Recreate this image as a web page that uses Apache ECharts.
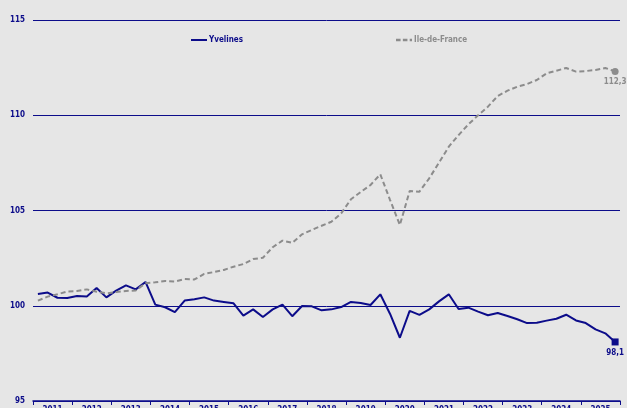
<!DOCTYPE html>
<html><head><meta charset="utf-8">
<script src="https://cdn.jsdelivr.net/npm/echarts@6/dist/echarts.min.js"></script>
<style>html,body{margin:0;padding:0;background:#e6e6e6;}#c{width:627px;height:408px;}</style>
</head><body><div id="c"></div>
<script>
var years = ['2011','2012','2013','2014','2015','2016','2017','2018','2019','2020','2021','2022','2023','2024','2025'];
var quarters = [];
years.forEach(function(y){ for (var q=1;q<=4;q++) quarters.push(y+'T'+q); });
var yvelines = [100.62,100.69,100.42,100.41,100.51,100.48,100.93,100.44,100.79,101.07,
  100.86,101.25,100.06,99.92,99.67,100.27,100.34,100.44,100.27,100.2,
  100.13,99.48,99.81,99.41,99.81,100.06,99.45,99.99,99.97,99.76,
  99.81,99.93,100.2,100.14,100.04,100.6,99.57,98.32,99.73,99.52,
  99.81,100.23,100.6,99.83,99.9,99.69,99.5,99.62,99.46,99.29,
  99.09,99.11,99.22,99.32,99.53,99.23,99.09,98.76,98.55,98.1];
var idf = [100.27,100.48,100.6,100.75,100.77,100.86,100.74,100.65,100.72,100.78,
  100.8,101.18,101.23,101.3,101.27,101.4,101.38,101.67,101.77,101.88,
  102.05,102.19,102.45,102.52,103.07,103.42,103.3,103.75,103.98,104.2,
  104.41,104.85,105.59,105.97,106.34,106.9,105.55,104.24,106.02,105.99,
  106.69,107.51,108.35,108.96,109.52,110.0,110.45,111.01,111.29,111.5,
  111.64,111.85,112.2,112.34,112.48,112.29,112.32,112.38,112.48,112.3];
var yTicks = [95,100,105,110,115];
var NAVY = '#0c0c8a', GREY = '#8c8c8c';
var FONT = 'DejaVu Sans Condensed';
function lastLabel(arr, color, symbol) {
  return arr.map(function(v,i){
    if (i === arr.length-1) return {value:v, symbol:symbol, symbolSize:7,
      itemStyle:{color:color},
      label:{show:true, position:'bottom', distance:3, color:color, fontFamily:FONT, fontWeight:'bold', fontSize:8,
        formatter:function(p){return p.value.toFixed(1).replace('.',',');}}};
    return v;
  });
}
var chart = echarts.init(document.getElementById('c'));
chart.setOption({
  backgroundColor:'#e6e6e6',
  animation:false,
  textStyle:{fontFamily:FONT},
  legend:{top:36, left:191, padding:0, itemGap:153, itemWidth:16, itemHeight:8,
    textStyle:{fontFamily:FONT, fontWeight:'bold', fontSize:8, padding:[0,0,0,-3]},
    data:[{name:'Yvelines', textStyle:{color:NAVY}, icon:'path://M0,0H16V2H0Z'},
          {name:'Ile-de-France', textStyle:{color:GREY}, icon:'path://M0,0H4V2H0ZM6,0H10V2H6ZM12,0H14V2H12Z'}]},
  grid:{left:33, right:7, top:20, bottom:7, containLabel:false, outerBoundsMode:'none'},
  xAxis:[
    {type:'category', data:quarters, boundaryGap:true, show:false},
    {type:'category', data:years, boundaryGap:true, position:'bottom',
      axisLine:{lineStyle:{color:NAVY, width:1.5}},
      axisTick:{show:true, length:4, inside:false, lineStyle:{color:NAVY}},
      axisLabel:{color:NAVY, fontFamily:FONT, fontWeight:'bold', fontSize:8, margin:5}}
  ],
  yAxis:{type:'value', min:95, max:115, interval:5,
    axisLine:{show:false}, axisTick:{show:false},
    axisLabel:{color:NAVY, fontFamily:FONT, fontWeight:'bold', fontSize:8, margin:8,
      formatter:function(v){return yTicks.indexOf(v)>=0 ? String(v) : '';}},
    splitLine:{lineStyle:{color:NAVY, width:1}}},
  series:[
    {name:'Yvelines', type:'line', xAxisIndex:0, data:lastLabel(yvelines, NAVY, 'rect'),
      showSymbol:true, symbol:'none', lineStyle:{color:NAVY, width:2}, itemStyle:{color:NAVY}},
    {name:'Ile-de-France', type:'line', xAxisIndex:0, data:lastLabel(idf, GREY, 'circle'),
      showSymbol:true, symbol:'none', lineStyle:{color:GREY, width:2, type:[5,3]}, itemStyle:{color:GREY}}
  ]
});
</script></body></html>
